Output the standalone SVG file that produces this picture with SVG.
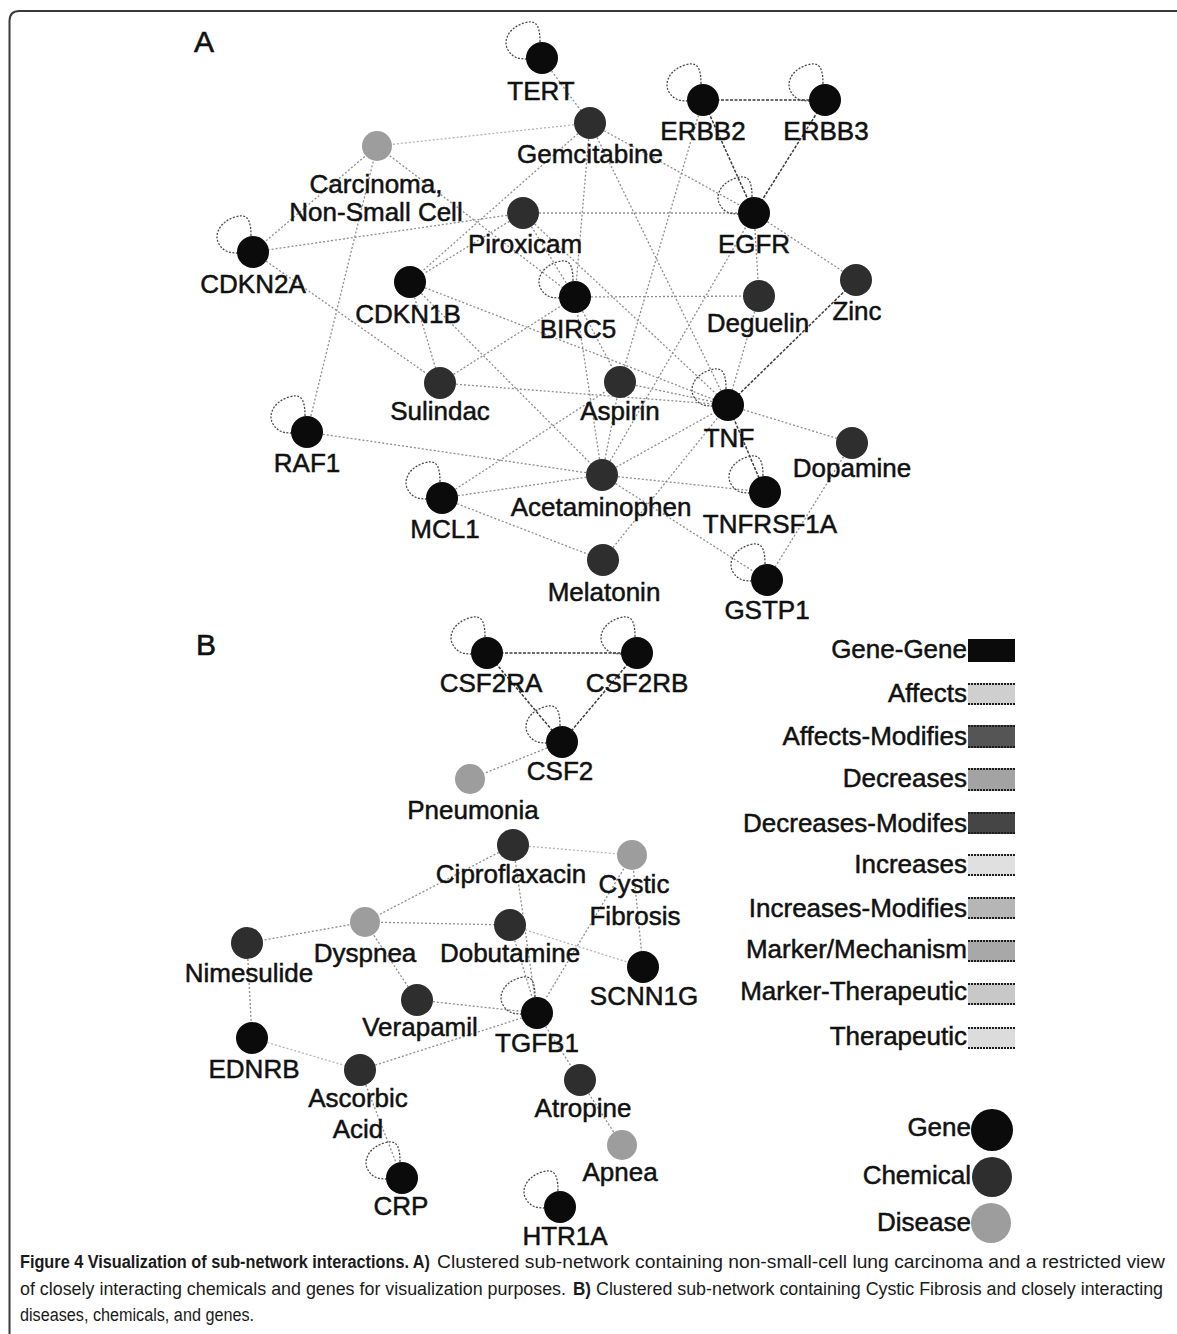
<svg xmlns="http://www.w3.org/2000/svg" width="1177" height="1334" viewBox="0 0 1177 1334">
  <style>
    .edge { stroke: #8e8e8e; stroke-width: 1.3; stroke-dasharray: 2 2; fill: none; }
    .gg { stroke: #3c3c3c; stroke-width: 1.5; stroke-dasharray: 3 1.5; }
    .faint { stroke: #b4b4b4; }
    .loop { fill: none; stroke: #4a4a4a; stroke-width: 1.3; stroke-dasharray: 2 1.5; }
    .gene { fill: #0b0b0b; }
    .chem { fill: #2e2e2e; }
    .dis { fill: #9d9d9d; }
    .lbl { font-family: "Liberation Sans", Arial, sans-serif; font-size: 26px; fill: #111; stroke: #111; stroke-width: 0.5; text-anchor: middle; }
    .panel { font-family: "Liberation Sans", Arial, sans-serif; font-size: 30px; fill: #111; stroke: #111; stroke-width: 0.6; text-anchor: middle; }
    .leg { font-family: "Liberation Sans", Arial, sans-serif; font-size: 26px; fill: #111; stroke: #111; stroke-width: 0.5; text-anchor: end; }
    .sw-edge { stroke: #1e1e1e; stroke-width: 2; stroke-dasharray: 2 1; }
    .cap { font-family: "Liberation Sans Narrow", "Liberation Sans", Arial, sans-serif; font-size: 18px; fill: #1a1a1a; }
    .capb { font-weight: bold; }
  </style>
  <defs>
    <!-- self-interaction loop, drawn relative to the node centre -->
    <path id="loop" d="M -2,-16 C -2,-36 -8,-38 -18,-35 C -32,-31 -40,-18 -34,-8 C -30,-1 -24,1 -16,1"/>
  </defs>

  <rect width="1177" height="1334" fill="#ffffff"/>
  <!-- figure frame -->
  <path d="M 9.5,1334 V 21 Q 9.5,11 19.5,11 H 1177" fill="none" stroke="#3a3a3a" stroke-width="2"/>

  <text class="panel" x="204" y="52">A</text>
  <text class="panel" x="206" y="655">B</text>

  <!-- connectors -->
  <g id="connectors">
    <!-- panel A -->
    <line class="edge gg" x1="703" y1="100" x2="825" y2="100"/>
    <line class="edge gg" x1="703" y1="100" x2="754" y2="213"/>
    <line class="edge gg" x1="825" y1="100" x2="754" y2="213"/>
    <line class="edge" x1="542" y1="58" x2="590" y2="123"/>
    <line class="edge faint" x1="377" y1="146" x2="590" y2="123"/>
    <line class="edge" x1="590" y1="123" x2="754" y2="213"/>
    <line class="edge" x1="590" y1="123" x2="410" y2="282"/>
    <line class="edge" x1="590" y1="123" x2="575" y2="297"/>
    <line class="edge" x1="590" y1="123" x2="728" y2="405"/>
    <line class="edge" x1="523" y1="213" x2="754" y2="213"/>
    <line class="edge" x1="523" y1="213" x2="253" y2="252"/>
    <line class="edge" x1="523" y1="213" x2="410" y2="282"/>
    <line class="edge" x1="523" y1="213" x2="575" y2="297"/>
    <line class="edge" x1="523" y1="213" x2="728" y2="405"/>
    <line class="edge" x1="377" y1="146" x2="253" y2="252"/>
    <line class="edge" x1="377" y1="146" x2="307" y2="432"/>
    <line class="edge" x1="377" y1="146" x2="575" y2="297"/>
    <line class="edge" x1="253" y1="252" x2="440" y2="383"/>
    <line class="edge" x1="410" y1="282" x2="440" y2="383"/>
    <line class="edge" x1="410" y1="282" x2="728" y2="405"/>
    <line class="edge" x1="410" y1="282" x2="602" y2="475"/>
    <line class="edge" x1="440" y1="383" x2="575" y2="297"/>
    <line class="edge" x1="440" y1="383" x2="728" y2="405"/>
    <line class="edge" x1="307" y1="432" x2="602" y2="475"/>
    <line class="edge" x1="442" y1="498" x2="602" y2="475"/>
    <line class="edge" x1="442" y1="498" x2="620" y2="382"/>
    <line class="edge" x1="442" y1="498" x2="603" y2="560"/>
    <line class="edge" x1="602" y1="475" x2="728" y2="405"/>
    <line class="edge" x1="602" y1="475" x2="620" y2="382"/>
    <line class="edge" x1="602" y1="475" x2="575" y2="297"/>
    <line class="edge" x1="602" y1="475" x2="765" y2="492"/>
    <line class="edge" x1="602" y1="475" x2="767" y2="580"/>
    <line class="edge" x1="602" y1="475" x2="754" y2="213"/>
    <line class="edge" x1="603" y1="560" x2="728" y2="405"/>
    <line class="edge" x1="620" y1="382" x2="728" y2="405"/>
    <line class="edge" x1="575" y1="297" x2="759" y2="296"/>
    <line class="edge" x1="575" y1="297" x2="620" y2="382"/>
    <line class="edge" x1="703" y1="100" x2="620" y2="382"/>
    <line class="edge" x1="759" y1="296" x2="728" y2="405"/>
    <line class="edge" x1="754" y1="213" x2="759" y2="296"/>
    <line class="edge" x1="754" y1="213" x2="856" y2="280"/>
    <line class="edge gg" x1="856" y1="280" x2="728" y2="405"/>
    <line class="edge" x1="728" y1="405" x2="852" y2="443"/>
    <line class="edge gg" x1="728" y1="405" x2="765" y2="492"/>
    <line class="edge" x1="852" y1="443" x2="767" y2="580"/>
    <!-- panel A self loops -->
    <use href="#loop" class="loop" x="542" y="58"/>
    <use href="#loop" class="loop" x="703" y="100"/>
    <use href="#loop" class="loop" x="825" y="100"/>
    <use href="#loop" class="loop" x="754" y="213"/>
    <use href="#loop" class="loop" x="253" y="252"/>
    <use href="#loop" class="loop" x="575" y="297"/>
    <use href="#loop" class="loop" x="728" y="405"/>
    <use href="#loop" class="loop" x="307" y="432"/>
    <use href="#loop" class="loop" x="442" y="498"/>
    <use href="#loop" class="loop" x="765" y="492"/>
    <use href="#loop" class="loop" x="767" y="580"/>

    <!-- panel B -->
    <line class="edge gg" x1="487" y1="653" x2="637" y2="653"/>
    <line class="edge gg" x1="487" y1="653" x2="562" y2="742"/>
    <line class="edge gg" x1="637" y1="653" x2="562" y2="742"/>
    <line class="edge" x1="562" y1="742" x2="470" y2="779"/>
    <line class="edge" x1="513" y1="845" x2="365" y2="922"/>
    <line class="edge faint" x1="513" y1="845" x2="632" y2="855"/>
    <line class="edge" x1="513" y1="845" x2="537" y2="1013"/>
    <line class="edge" x1="365" y1="922" x2="510" y2="925"/>
    <line class="edge" x1="365" y1="922" x2="247" y2="943"/>
    <line class="edge" x1="365" y1="922" x2="417" y2="1000"/>
    <line class="edge" x1="510" y1="925" x2="537" y2="1013"/>
    <line class="edge faint" x1="510" y1="925" x2="643" y2="967"/>
    <line class="edge" x1="632" y1="855" x2="537" y2="1013"/>
    <line class="edge" x1="632" y1="855" x2="643" y2="967"/>
    <line class="edge" x1="247" y1="943" x2="252" y2="1038"/>
    <line class="edge" x1="417" y1="1000" x2="537" y2="1013"/>
    <line class="edge" x1="360" y1="1070" x2="537" y2="1013"/>
    <line class="edge" x1="537" y1="1013" x2="580" y2="1080"/>
    <line class="edge" x1="580" y1="1080" x2="622" y2="1145"/>
    <line class="edge faint" x1="252" y1="1038" x2="360" y2="1070"/>
    <line class="edge" x1="360" y1="1070" x2="402" y2="1178"/>
    <!-- panel B self loops -->
    <use href="#loop" class="loop" x="487" y="653"/>
    <use href="#loop" class="loop" x="637" y="653"/>
    <use href="#loop" class="loop" x="562" y="742"/>
    <use href="#loop" class="loop" x="537" y="1013"/>
    <use href="#loop" class="loop" x="402" y="1178"/>
    <use href="#loop" class="loop" x="560" y="1207"/>
  </g>

  <!-- panel A nodes -->
  <g id="node-TERT"><circle class="gene" cx="542" cy="58" r="16"/><text class="lbl" x="541" y="100">TERT</text></g>
  <g id="node-Gemcitabine"><circle class="chem" cx="590" cy="123" r="16"/><text class="lbl" x="590" y="163">Gemcitabine</text></g>
  <g id="node-ERBB2"><circle class="gene" cx="703" cy="100" r="16"/><text class="lbl" x="703" y="140">ERBB2</text></g>
  <g id="node-ERBB3"><circle class="gene" cx="825" cy="100" r="16"/><text class="lbl" x="826" y="140">ERBB3</text></g>
  <g id="node-Carcinoma"><circle class="dis" cx="377" cy="146" r="15"/><text class="lbl" x="376" y="193">Carcinoma,</text><text class="lbl" x="376" y="221">Non-Small Cell</text></g>
  <g id="node-EGFR"><circle class="gene" cx="754" cy="213" r="16"/><text class="lbl" x="754" y="253">EGFR</text></g>
  <g id="node-Piroxicam"><circle class="chem" cx="523" cy="213" r="16"/><text class="lbl" x="525" y="253">Piroxicam</text></g>
  <g id="node-CDKN2A"><circle class="gene" cx="253" cy="252" r="16"/><text class="lbl" x="253" y="293">CDKN2A</text></g>
  <g id="node-CDKN1B"><circle class="gene" cx="410" cy="282" r="16"/><text class="lbl" x="408" y="323">CDKN1B</text></g>
  <g id="node-BIRC5"><circle class="gene" cx="575" cy="297" r="16"/><text class="lbl" x="578" y="338">BIRC5</text></g>
  <g id="node-Deguelin"><circle class="chem" cx="759" cy="296" r="16"/><text class="lbl" x="758" y="332">Deguelin</text></g>
  <g id="node-Zinc"><circle class="chem" cx="856" cy="280" r="16"/><text class="lbl" x="857" y="320">Zinc</text></g>
  <g id="node-Sulindac"><circle class="chem" cx="440" cy="383" r="16"/><text class="lbl" x="440" y="420">Sulindac</text></g>
  <g id="node-Aspirin"><circle class="chem" cx="620" cy="382" r="16"/><text class="lbl" x="620" y="420">Aspirin</text></g>
  <g id="node-TNF"><circle class="gene" cx="728" cy="405" r="16"/><text class="lbl" x="729" y="447">TNF</text></g>
  <g id="node-RAF1"><circle class="gene" cx="307" cy="432" r="16"/><text class="lbl" x="307" y="472">RAF1</text></g>
  <g id="node-Dopamine"><circle class="chem" cx="852" cy="443" r="16"/><text class="lbl" x="852" y="477">Dopamine</text></g>
  <g id="node-Acetaminophen"><circle class="chem" cx="602" cy="475" r="16"/><text class="lbl" x="601" y="516">Acetaminophen</text></g>
  <g id="node-MCL1"><circle class="gene" cx="442" cy="498" r="16"/><text class="lbl" x="445" y="538">MCL1</text></g>
  <g id="node-TNFRSF1A"><circle class="gene" cx="765" cy="492" r="16"/><text class="lbl" x="770" y="533">TNFRSF1A</text></g>
  <g id="node-Melatonin"><circle class="chem" cx="603" cy="560" r="16"/><text class="lbl" x="604" y="601">Melatonin</text></g>
  <g id="node-GSTP1"><circle class="gene" cx="767" cy="580" r="16"/><text class="lbl" x="767" y="619">GSTP1</text></g>

  <!-- panel B nodes -->
  <g id="node-CSF2RA"><circle class="gene" cx="487" cy="653" r="16"/><text class="lbl" x="491" y="692">CSF2RA</text></g>
  <g id="node-CSF2RB"><circle class="gene" cx="637" cy="653" r="16"/><text class="lbl" x="637" y="692">CSF2RB</text></g>
  <g id="node-CSF2"><circle class="gene" cx="562" cy="742" r="16"/><text class="lbl" x="560" y="780">CSF2</text></g>
  <g id="node-Pneumonia"><circle class="dis" cx="470" cy="779" r="15"/><text class="lbl" x="473" y="819">Pneumonia</text></g>
  <g id="node-Ciproflaxacin"><circle class="chem" cx="513" cy="845" r="16"/><text class="lbl" x="511" y="883">Ciproflaxacin</text></g>
  <g id="node-CysticFibrosis"><circle class="dis" cx="632" cy="855" r="15"/><text class="lbl" x="634" y="893">Cystic</text><text class="lbl" x="635" y="925">Fibrosis</text></g>
  <g id="node-Dyspnea"><circle class="dis" cx="365" cy="922" r="15"/><text class="lbl" x="365" y="962">Dyspnea</text></g>
  <g id="node-Dobutamine"><circle class="chem" cx="510" cy="925" r="16"/><text class="lbl" x="510" y="962">Dobutamine</text></g>
  <g id="node-Nimesulide"><circle class="chem" cx="247" cy="943" r="16"/><text class="lbl" x="249" y="982">Nimesulide</text></g>
  <g id="node-SCNN1G"><circle class="gene" cx="643" cy="967" r="16"/><text class="lbl" x="644" y="1005">SCNN1G</text></g>
  <g id="node-Verapamil"><circle class="chem" cx="417" cy="1000" r="16"/><text class="lbl" x="420" y="1036">Verapamil</text></g>
  <g id="node-TGFB1"><circle class="gene" cx="537" cy="1013" r="16"/><text class="lbl" x="537" y="1052">TGFB1</text></g>
  <g id="node-EDNRB"><circle class="gene" cx="252" cy="1038" r="16"/><text class="lbl" x="254" y="1078">EDNRB</text></g>
  <g id="node-AscorbicAcid"><circle class="chem" cx="360" cy="1070" r="16"/><text class="lbl" x="358" y="1107">Ascorbic</text><text class="lbl" x="358" y="1138">Acid</text></g>
  <g id="node-Atropine"><circle class="chem" cx="580" cy="1080" r="16"/><text class="lbl" x="583" y="1117">Atropine</text></g>
  <g id="node-Apnea"><circle class="dis" cx="622" cy="1145" r="15"/><text class="lbl" x="620" y="1181">Apnea</text></g>
  <g id="node-CRP"><circle class="gene" cx="402" cy="1178" r="16"/><text class="lbl" x="401" y="1215">CRP</text></g>
  <g id="node-HTR1A"><circle class="gene" cx="560" cy="1207" r="16"/><text class="lbl" x="565" y="1245">HTR1A</text></g>

  <!-- edge-type legend -->
  <g id="legend-edges">
    <text class="leg" x="967" y="658">Gene-Gene</text>
    <rect x="968" y="639" width="47" height="23" fill="#0b0b0b"/>

    <text class="leg" x="967" y="702">Affects</text>
    <rect x="968" y="683" width="47" height="22" fill="#cfcfcf"/>
    <line class="sw-edge" x1="968" y1="684" x2="1015" y2="684"/><line class="sw-edge" x1="968" y1="704" x2="1015" y2="704"/>

    <text class="leg" x="967" y="745">Affects-Modifies</text>
    <rect x="968" y="725" width="47" height="23" fill="#555555"/>
    <line class="sw-edge" x1="968" y1="726" x2="1015" y2="726"/><line class="sw-edge" x1="968" y1="747" x2="1015" y2="747"/>

    <text class="leg" x="967" y="787">Decreases</text>
    <rect x="968" y="768" width="47" height="23" fill="#a3a3a3"/>
    <line class="sw-edge" x1="968" y1="769" x2="1015" y2="769"/><line class="sw-edge" x1="968" y1="790" x2="1015" y2="790"/>

    <text class="leg" x="967" y="832">Decreases-Modifes</text>
    <rect x="968" y="812" width="47" height="22" fill="#454545"/>
    <line class="sw-edge" x1="968" y1="813" x2="1015" y2="813"/><line class="sw-edge" x1="968" y1="833" x2="1015" y2="833"/>

    <text class="leg" x="967" y="873">Increases</text>
    <rect x="968" y="854" width="47" height="22" fill="#e0e0e0"/>
    <line class="sw-edge" x1="968" y1="855" x2="1015" y2="855"/><line class="sw-edge" x1="968" y1="875" x2="1015" y2="875"/>

    <text class="leg" x="967" y="917">Increases-Modifies</text>
    <rect x="968" y="897" width="47" height="22" fill="#b6b6b6"/>
    <line class="sw-edge" x1="968" y1="898" x2="1015" y2="898"/><line class="sw-edge" x1="968" y1="918" x2="1015" y2="918"/>

    <text class="leg" x="967" y="958">Marker/Mechanism</text>
    <rect x="968" y="940" width="47" height="22" fill="#a8a8a8"/>
    <line class="sw-edge" x1="968" y1="941" x2="1015" y2="941"/><line class="sw-edge" x1="968" y1="961" x2="1015" y2="961"/>

    <text class="leg" x="967" y="1000">Marker-Therapeutic</text>
    <rect x="968" y="983" width="47" height="22" fill="#c8c8c8"/>
    <line class="sw-edge" x1="968" y1="984" x2="1015" y2="984"/><line class="sw-edge" x1="968" y1="1004" x2="1015" y2="1004"/>

    <text class="leg" x="967" y="1045">Therapeutic</text>
    <rect x="968" y="1027" width="47" height="22" fill="#dcdcdc"/>
    <line class="sw-edge" x1="968" y1="1028" x2="1015" y2="1028"/><line class="sw-edge" x1="968" y1="1048" x2="1015" y2="1048"/>
  </g>

  <!-- node-type legend -->
  <g id="legend-nodes">
    <text class="leg" x="971" y="1136">Gene</text>
    <circle class="gene" cx="992" cy="1130" r="21"/>
    <text class="leg" x="971" y="1184">Chemical</text>
    <circle class="chem" cx="992" cy="1177" r="20"/>
    <text class="leg" x="971" y="1231">Disease</text>
    <circle class="dis" cx="991" cy="1223" r="20"/>
  </g>

  <!-- caption, set as separate runs so bold and regular parts keep their widths -->
  <g id="caption">
    <text class="cap capb" x="20" y="1268" textLength="410" lengthAdjust="spacingAndGlyphs">Figure 4 Visualization of sub-network interactions. A)</text>
    <text class="cap" x="437" y="1268" textLength="728" lengthAdjust="spacingAndGlyphs">Clustered sub-network containing non-small-cell lung carcinoma and a restricted view</text>
    <text class="cap" x="20" y="1295" textLength="546" lengthAdjust="spacingAndGlyphs">of closely interacting chemicals and genes for visualization purposes.</text>
    <text class="cap capb" x="573" y="1295" textLength="18" lengthAdjust="spacingAndGlyphs">B)</text>
    <text class="cap" x="596" y="1295" textLength="567" lengthAdjust="spacingAndGlyphs">Clustered sub-network containing Cystic Fibrosis and closely interacting</text>
    <text class="cap" x="20" y="1321" textLength="234" lengthAdjust="spacingAndGlyphs">diseases, chemicals, and genes.</text>
  </g>
</svg>
